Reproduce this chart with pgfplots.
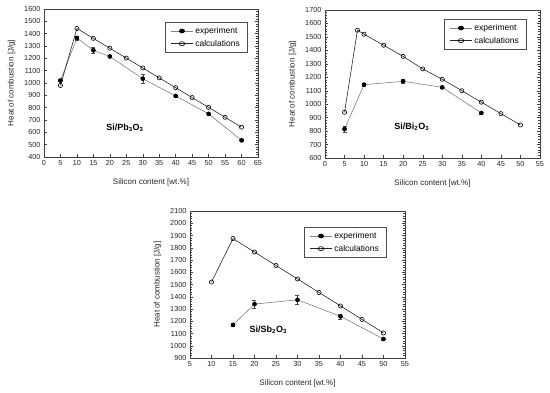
\documentclass[border=0pt]{standalone}
\usepackage{pgfplots}
\pgfplotsset{compat=1.18}
\usepackage{fontspec}
\setmainfont{Liberation Sans}
\pgfplotsset{
  myaxis/.style={
    scale only axis,
    anchor=south west,
    axis line style={black!75, line width=0.5pt},
    tick align=inside,
    major tick length=3pt,
    minor tick length=1.5pt,
    tick style={black!75, line width=0.4pt},
    xtick distance=5,
    ytick distance=100,
    minor y tick num=4,
    minor x tick num=0,
    xtick pos=bottom,
    ytick pos=both,
    /pgf/number format/assume math mode=true,
    /pgf/number format/1000 sep={},
    tick label style={font=\fontsize{7.3}{8}\selectfont, black!85},
    label style={font=\fontsize{8}{9}\selectfont, black!85},
    xlabel={Silicon content [wt.\%]},
    ylabel={Heat of combustion [J/g]},
    ylabel style={yshift=2pt},
    xlabel style={yshift=-6pt},
    legend style={draw=black!70, line width=0.4pt, font=\fontsize{8.5}{10}\selectfont, cells={anchor=west}, inner xsep=5pt, inner ysep=3pt, row sep=1pt},
    legend image post style={xscale=1.3},
    legend cell align=left,
  },
  expst/.style={black!50, line width=0.6pt, mark=*, mark size=2pt, mark options={fill=black, draw=black, solid},
     error bars/.cd, y dir=both, y explicit, error bar style={black!70, line width=0.4pt}, error mark options={rotate=90, mark size=2pt, black!70}},
  calcst/.style={black!85, line width=0.6pt, mark=o, mark size=2.1pt, mark options={fill=white, draw=black, solid}},
}
\begin{document}
\begin{tikzpicture}
\useasboundingbox (0,0) rectangle (550pt,393pt);
% Plot 1
\begin{axis}[myaxis, at={(44pt,236pt)}, width=214pt, height=148pt,
  xmin=0, xmax=65, ymin=400, ymax=1600,
  legend style={at={(1,1)}, anchor=north east, xshift=-11pt, yshift=-13pt}]
\addplot+[expst] coordinates {
 (5,1020) +- (0,8) (10,1365) +- (0,18) (15,1265) +- (0,25) (20,1215) +- (0,8)
 (30,1035) +- (0,40) (40,895) +- (0,8) (50,750) +- (0,8) (60,535) +- (0,8)};
\addlegendentry{experiment}
\addplot+[calcst] coordinates {
 (5,980) (10,1442) (15,1362) (20,1282) (25,1202) (30,1122) (35,1042) (40,962)
 (45,882) (50,802) (55,722) (60,642)};
\addlegendentry{calculations}
\node[font=\bfseries\fontsize{9}{10}\selectfont] at (axis cs:24.6,635) {Si/Pb$_\mathbf{3}$O$_\mathbf{3}$};
\end{axis}
% Plot 2
\begin{axis}[myaxis, at={(325pt,235pt)}, width=215pt, height=148pt,
  xmin=0, xmax=55, ymin=600, ymax=1700,
  legend style={at={(1,1)}, anchor=north east, xshift=-14pt, yshift=-9pt}]
\addplot+[expst] coordinates {
 (5,815) +- (0,20) (10,1145) +- (0,10) (20,1170) +- (0,15) (30,1125) +- (0,8) (40,935) +- (0,8)};
\addlegendentry{experiment}
\addplot+[calcst] coordinates {
 (5,940) (8.3,1550) (10,1520) (15,1438) (20,1355) (25,1262) (30,1185) (35,1100)
 (40,1015) (45,930) (50,845)};
\addlegendentry{calculations}
\node[font=\bfseries\fontsize{9}{10}\selectfont] at (axis cs:22.2,833) {Si/Bi$_\mathbf{2}$O$_\mathbf{3}$};
\end{axis}
% Plot 3
\begin{axis}[myaxis, at={(190pt,35pt)}, width=215pt, height=147pt,
  xmin=5, xmax=55, ymin=900, ymax=2100,
  legend style={at={(1,1)}, anchor=north east, xshift=-19pt, yshift=-16pt}]
\addplot+[expst] coordinates {
 (15,1170) +- (0,8) (20,1340) +- (0,35) (30,1375) +- (0,35) (40,1240) +- (0,20) (50,1055) +- (0,10)};
\addlegendentry{experiment}
\addplot+[calcst] coordinates {
 (10,1520) (15,1875) (20,1765) (25,1655) (30,1545) (35,1435) (40,1325) (45,1215) (50,1105)};
\addlegendentry{calculations}
\node[font=\bfseries\fontsize{9}{10}\selectfont] at (axis cs:23.2,1129) {Si/Sb$_\mathbf{2}$O$_\mathbf{3}$};
\end{axis}
\end{tikzpicture}
\end{document}
